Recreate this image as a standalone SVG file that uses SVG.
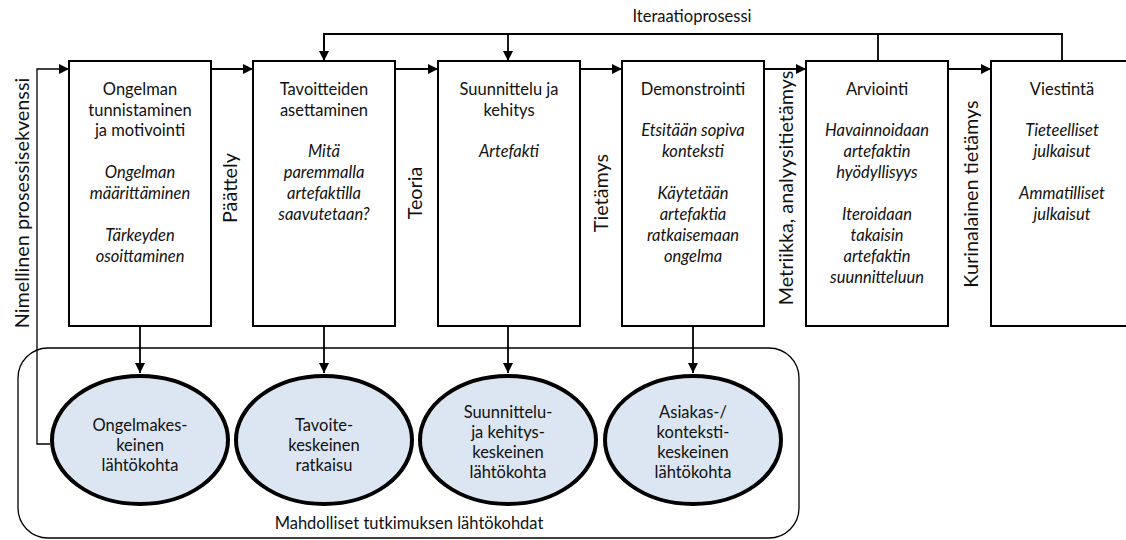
<svg xmlns="http://www.w3.org/2000/svg" width="1126" height="540" viewBox="0 0 1126 540">
<defs>
<marker id="ah" viewBox="0 0 10 10" refX="10" refY="5" markerWidth="10" markerHeight="10" markerUnits="userSpaceOnUse" orient="auto">
<path d="M0,0 L10,5 L0,10 Z" fill="#000"/>
</marker>
<style>
.box{fill:#fff;stroke:#000;stroke-width:2}
.ell{fill:#dce6f2;stroke:#000;stroke-width:4}
.con{fill:none;stroke:#000;stroke-width:1.8}
.thin{fill:none;stroke:#000;stroke-width:1.3}
text{font-family:Lato,"Open Sans","Liberation Sans",sans-serif;font-size:16.5px;fill:#111;text-anchor:middle}
.it{font-style:italic}
.vl{font-size:19.8px}
</style>
</defs>
<rect x="0" y="0" width="1126" height="540" fill="#fff"/>
<text x="692" y="22">Iteraatioprosessi</text>
<rect x="18" y="348" width="781" height="190" rx="30" ry="30" class="thin"/>
<text x="409" y="529">Mahdolliset tutkimuksen lähtökohdat</text>
<g id="connectors">
<polyline class="con" points="324,50 324,34 1062,34 1062,61"/>
<line class="con" x1="324" y1="34" x2="324" y2="61" marker-end="url(#ah)"/>
<line class="con" x1="508" y1="34" x2="508" y2="61" marker-end="url(#ah)"/>
<line class="con" x1="878" y1="34" x2="878" y2="61"/>
<polyline class="thin" points="50,444 37,444 37,69 69,69" marker-end="url(#ah)"/>
<line class="con" x1="211" y1="69" x2="253" y2="69" marker-end="url(#ah)"/>
<line class="con" x1="395" y1="69" x2="438" y2="69" marker-end="url(#ah)"/>
<line class="con" x1="580" y1="69" x2="622" y2="69" marker-end="url(#ah)"/>
<line class="con" x1="764" y1="69" x2="806" y2="69" marker-end="url(#ah)"/>
<line class="con" x1="948" y1="69" x2="991" y2="69" marker-end="url(#ah)"/>
<line class="con" x1="140" y1="326" x2="140" y2="373" marker-end="url(#ah)"/>
<line class="con" x1="324" y1="326" x2="324" y2="373" marker-end="url(#ah)"/>
<line class="con" x1="508" y1="326" x2="508" y2="373" marker-end="url(#ah)"/>
<line class="con" x1="693" y1="326" x2="693" y2="373" marker-end="url(#ah)"/>
</g>
<g id="labels">
<text class="vl" transform="translate(29,203) rotate(-90)">Nimellinen prosessisekvenssi</text>
<text class="vl" transform="translate(237,188) rotate(-90)">Päättely</text>
<text class="vl" transform="translate(422,193) rotate(-90)">Teoria</text>
<text class="vl" transform="translate(608,193) rotate(-90)">Tietämys</text>
<text class="vl" transform="translate(793,188) rotate(-90)">Metriikka, analyysitietämys</text>
<text class="vl" transform="translate(978,194) rotate(-90)">Kurinalainen tietämys</text>
</g>
<g id="box1">
<rect class="box" x="69" y="61" width="142" height="265"/>
<text x="140" y="95">Ongelman</text>
<text x="140" y="116">tunnistaminen</text>
<text x="140" y="136">ja motivointi</text>
<text class="it" x="140" y="178">Ongelman</text>
<text class="it" x="140" y="199">määrittäminen</text>
<text class="it" x="140" y="241">Tärkeyden</text>
<text class="it" x="140" y="262">osoittaminen</text>
</g>
<g id="box2">
<rect class="box" x="253" y="61" width="142" height="265"/>
<text x="324" y="95">Tavoitteiden</text>
<text x="324" y="116">asettaminen</text>
<text class="it" x="324" y="157">Mitä</text>
<text class="it" x="324" y="178">paremmalla</text>
<text class="it" x="324" y="199">artefaktilla</text>
<text class="it" x="324" y="220">saavutetaan?</text>
</g>
<g id="box3">
<rect class="box" x="438" y="61" width="142" height="265"/>
<text x="509" y="95">Suunnittelu ja</text>
<text x="509" y="116">kehitys</text>
<text class="it" x="509" y="157">Artefakti</text>
</g>
<g id="box4">
<rect class="box" x="622" y="61" width="142" height="265"/>
<text x="693" y="95">Demonstrointi</text>
<text class="it" x="693" y="136">Etsitään sopiva</text>
<text class="it" x="693" y="157">konteksti</text>
<text class="it" x="693" y="199">Käytetään</text>
<text class="it" x="693" y="220">artefaktia</text>
<text class="it" x="693" y="241">ratkaisemaan</text>
<text class="it" x="693" y="262">ongelma</text>
</g>
<g id="box5">
<rect class="box" x="806" y="61" width="142" height="265"/>
<text x="877" y="95">Arviointi</text>
<text class="it" x="877" y="136">Havainnoidaan</text>
<text class="it" x="877" y="157">artefaktin</text>
<text class="it" x="877" y="178">hyödyllisyys</text>
<text class="it" x="877" y="220">Iteroidaan</text>
<text class="it" x="877" y="241">takaisin</text>
<text class="it" x="877" y="262">artefaktin</text>
<text class="it" x="877" y="283">suunnitteluun</text>
</g>
<g id="box6">
<rect class="box" x="991" y="61" width="142" height="265"/>
<text x="1062" y="95">Viestintä</text>
<text class="it" x="1062" y="136">Tieteelliset</text>
<text class="it" x="1062" y="157">julkaisut</text>
<text class="it" x="1062" y="199">Ammatilliset</text>
<text class="it" x="1062" y="220">julkaisut</text>
</g>
<g id="ell1">
<ellipse class="ell" cx="140" cy="440" rx="88" ry="64"/>
<text x="140" y="431">Ongelmakes-</text>
<text x="140" y="451">keinen</text>
<text x="140" y="471">lähtökohta</text>
</g>
<g id="ell2">
<ellipse class="ell" cx="324" cy="440" rx="88" ry="64"/>
<text x="324" y="431">Tavoite-</text>
<text x="324" y="451">keskeinen</text>
<text x="324" y="471">ratkaisu</text>
</g>
<g id="ell3">
<ellipse class="ell" cx="508" cy="440" rx="88" ry="64"/>
<text x="508" y="418">Suunnittelu-</text>
<text x="508" y="438">ja kehitys-</text>
<text x="508" y="458">keskeinen</text>
<text x="508" y="478">lähtökohta</text>
</g>
<g id="ell4">
<ellipse class="ell" cx="693" cy="440" rx="88" ry="64"/>
<text x="693" y="418">Asiakas-/</text>
<text x="693" y="438">konteksti-</text>
<text x="693" y="458">keskeinen</text>
<text x="693" y="478">lähtökohta</text>
</g>
</svg>
